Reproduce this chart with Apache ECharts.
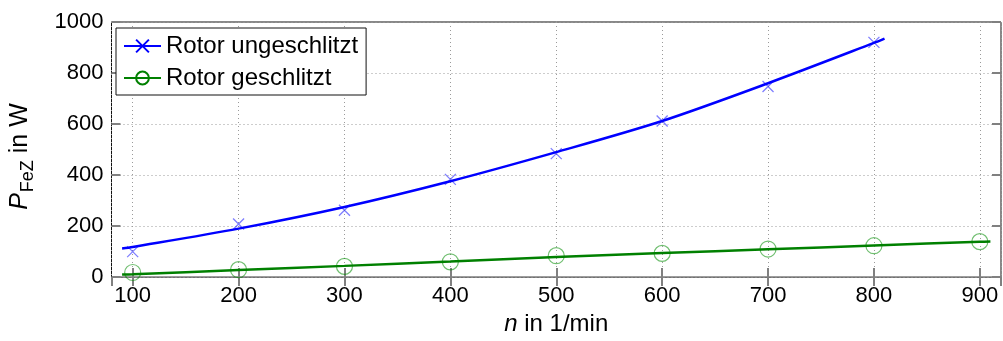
<!DOCTYPE html>
<html>
<head>
<meta charset="utf-8">
<script src="https://cdn.jsdelivr.net/npm/echarts@6/dist/echarts.min.js"></script>
<style>
html,body{margin:0;padding:0;background:#fff;}
#c{width:1003px;height:341px;}
</style>
</head>
<body>
<div id="c"></div>
<script>
// Measured points
var measX = [100, 200, 300, 400, 500, 600, 700, 800, 900];
var blueMeas = [100, 208, 262, 383, 484, 612, 747, 920];
var greenMeas = [18, 29, 42, 60, 84, 93, 110, 123, 139];
// Fitted curves
var blueFitX = [90, 100, 200, 300, 400, 500, 600, 700, 800, 810];
var blueFitY = [112, 118, 190, 275, 376, 490, 612, 760, 918, 935];
var greenFitX = [90, 100, 200, 300, 400, 500, 600, 700, 800, 900, 910];
var greenFitY = [10, 11, 28, 44, 61, 79, 94, 109, 124, 139, 140];
var yTicks = [0, 200, 400, 600, 800, 1000];
var nameBlue = 'Rotor ungeschlitzt';
var nameGreen = 'Rotor geschlitzt';

function pairs(xs, ys) { return xs.slice(0, ys.length).map(function (x, i) { return [x, ys[i]]; }); }

var FONT = 'Liberation Sans, Arial, sans-serif';
var crossPath = 'path://M0,0L10,10M10,0L0,10';
var chart = echarts.init(document.getElementById('c'), null, {renderer: 'canvas'});

var tickStyle = {show: true, inside: true, length: 9, lineStyle: {color: '#808080', width: 2}};
var gridLine = {show: true, lineStyle: {color: '#9a9a9a', type: [1, 3], width: 1}};

chart.setOption({
  animation: false,
  backgroundColor: '#fff',
  grid: {left: 111, top: 22, right: 2, bottom: 53, show: true, borderColor: '#111', borderWidth: 1, backgroundColor: 'transparent'},
  legend: {
    data: [nameBlue, nameGreen],
    orient: 'vertical', left: 116, top: 28,
    itemWidth: 37, itemHeight: 16, itemGap: 8,
    padding: [6, 8, 5, 7],
    backgroundColor: '#fff', borderColor: '#111', borderWidth: 1, borderRadius: 0,
    textStyle: {fontFamily: FONT, fontSize: 24, color: '#000'},
    selectedMode: false
  },
  xAxis: [{
    type: 'value', min: 80, max: 920, splitNumber: 8,
    axisLine: {show: false},
    axisTick: tickStyle,
    splitLine: gridLine,
    axisLabel: {fontFamily: FONT, fontSize: 22, color: '#000', margin: 8, showMinLabel: false, showMaxLabel: false,
      formatter: function (v) { return String(v); }},
    name: '{i|n}{r| in 1/min}', nameLocation: 'middle', nameGap: 32,
    nameTextStyle: {rich: {i: {fontFamily: FONT, fontSize: 24, fontStyle: 'italic', color: '#000'}, r: {fontFamily: FONT, fontSize: 24, color: '#000'}}}
  }, {
    type: 'value', position: 'top', min: 80, max: 920, splitNumber: 8,
    axisLine: {show: false}, axisTick: tickStyle, axisLabel: {show: false}, splitLine: {show: false}
  }],
  yAxis: [{
    type: 'value', min: yTicks[0], max: yTicks[yTicks.length - 1], interval: 200,
    axisLine: {show: false},
    axisTick: tickStyle,
    splitLine: gridLine,
    axisLabel: {fontFamily: FONT, fontSize: 22, color: '#000', margin: 8,
      formatter: function (v) { return String(v); }},
    name: '{i|P}{s|FeZ}{r| in W}', nameLocation: 'middle', nameGap: 74,
    nameTextStyle: {padding: [0, 14, 0, 0], rich: {
      i: {fontFamily: FONT, fontSize: 25, fontStyle: 'italic', color: '#000'},
      s: {fontFamily: FONT, fontSize: 18, color: '#000', padding: [16, 0, 0, 1]},
      r: {fontFamily: FONT, fontSize: 25, color: '#000'}
    }}
  }, {
    type: 'value', position: 'right', min: 0, max: 1000, interval: 200,
    axisLine: {show: false}, axisTick: tickStyle, axisLabel: {show: false}, splitLine: {show: false}
  }],
  series: [
    {type: 'scatter', name: 'mb', data: pairs(measX, blueMeas), symbol: crossPath, symbolSize: 11,
     itemStyle: {color: 'none', borderColor: 'rgba(40,40,255,0.75)', borderWidth: 1.3}, z: 2},
    {type: 'scatter', name: 'mg', data: pairs(measX, greenMeas), symbol: 'circle', symbolSize: 16,
     itemStyle: {color: 'none', borderColor: 'rgba(0,140,0,0.7)', borderWidth: 1.2}, z: 2},
    {type: 'line', name: 'fb', data: pairs(blueFitX, blueFitY), showSymbol: false, symbol: 'none', smooth: 0.3,
     lineStyle: {color: '#0000ff', width: 2.5}, z: 3},
    {type: 'line', name: 'fg', data: pairs(greenFitX, greenFitY), showSymbol: false, symbol: 'none', smooth: 0.3,
     lineStyle: {color: '#008000', width: 2.5}, z: 3},
    {type: 'line', name: nameBlue, data: [], symbol: crossPath, symbolSize: 10,
     itemStyle: {color: 'none', borderColor: '#0000ff', borderWidth: 2},
     lineStyle: {color: '#0000ff', width: 2}},
    {type: 'line', name: nameGreen, data: [], symbol: 'circle', symbolSize: 12,
     itemStyle: {color: 'none', borderColor: '#008000', borderWidth: 1.5},
     lineStyle: {color: '#008000', width: 2}}
  ]
});
</script>
</body>
</html>
